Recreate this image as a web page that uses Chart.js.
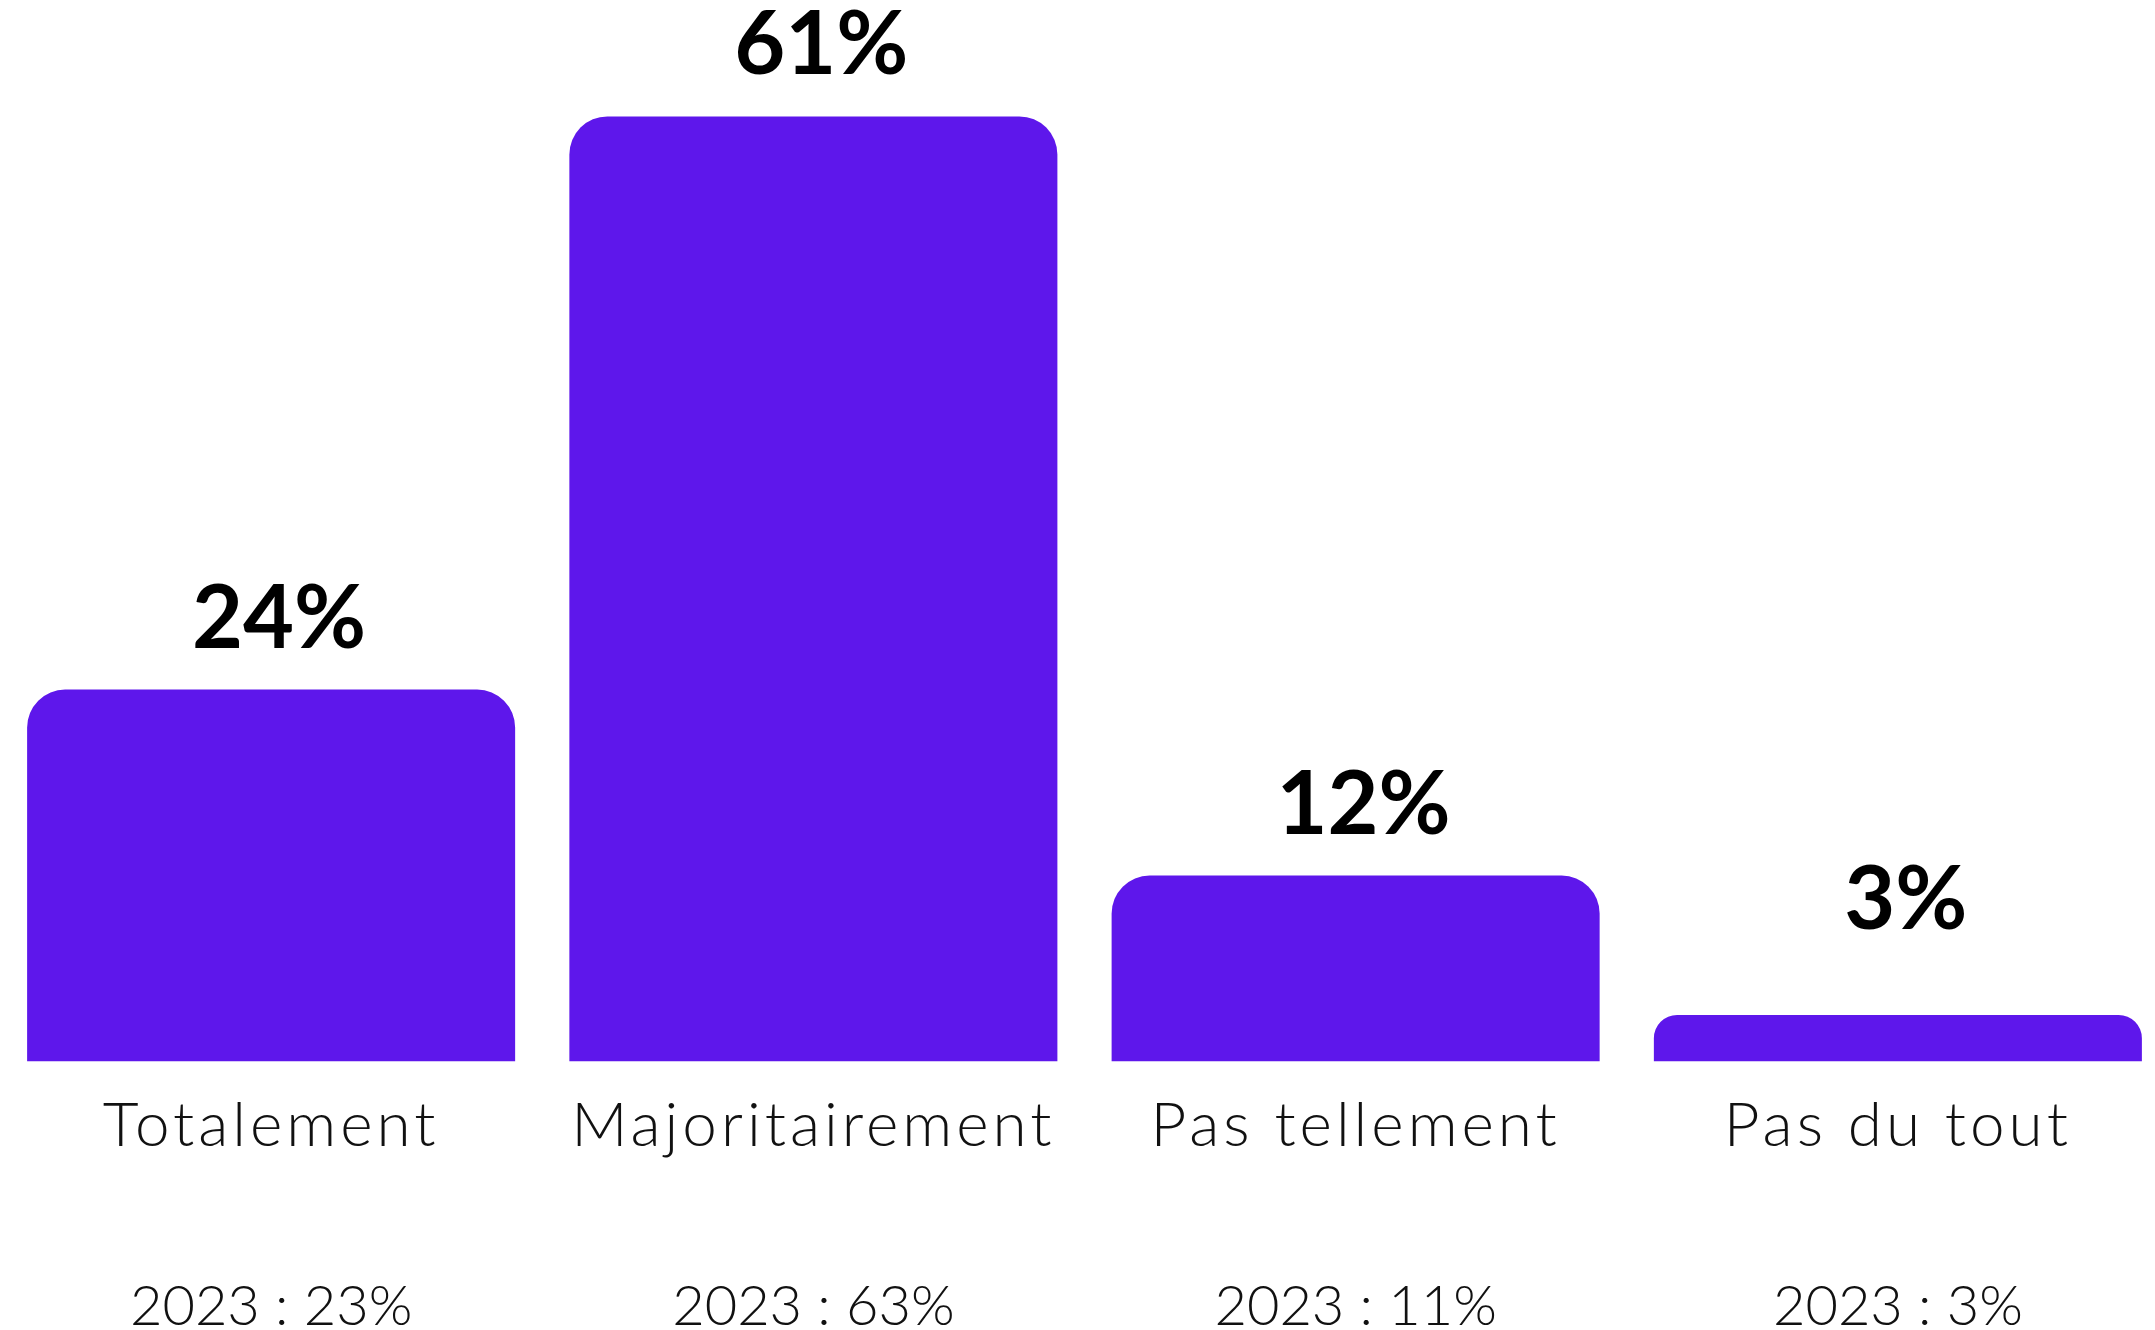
<!DOCTYPE html>
<html lang="fr">
<head>
<meta charset="utf-8">
<title>Répartition des réponses</title>
<script src="https://cdn.jsdelivr.net/npm/chart.js@4.4.1/dist/chart.umd.min.js"></script>
<style>
  html, body { margin: 0; padding: 0; background: #fff; overflow: hidden; }
  #wrap { position: absolute; left: 0; top: 0; width: 2169px; height: 1330px; }
</style>
</head>
<body>
<div id="wrap"><canvas id="chart"></canvas></div>
<script>
// ── Data ───────────────────────────────────────────────────────────────────
const categories  = ['Totalement', 'Majoritairement', 'Pas tellement', 'Pas du tout'];
const values2024  = [24, 61, 12, 3];
const labels2023  = ['2023 : 23%', '2023 : 63%', '2023 : 11%', '2023 : 3%'];

const PURPLE = '#5e17eb';

// category labels are drawn wider (letter spacing) than the 2023 line:
// x labels draw before the datasets, x2 labels (ticks.z: 1) after them
const spacing = {
  id: 'spacing',
  beforeDraw(chart) { chart.ctx.letterSpacing = '4px'; },
  beforeDatasetsDraw(chart) { chart.ctx.letterSpacing = '0px'; },
};

// ── Value labels above the bars ────────────────────────────────────────────
const valueLabels = {
  id: 'valueLabels',
  afterDatasetsDraw(chart) {
    const { ctx } = chart;
    const meta = chart.getDatasetMeta(0);
    ctx.save();
    ctx.font = '700 88px Lato';
    ctx.fillStyle = '#000';
    ctx.textAlign = 'center';
    ctx.textBaseline = 'alphabetic';
    meta.data.forEach((bar, i) => {
      const y = Math.min(bar.y - 42, bar.base - 132);
      ctx.fillText(values2024[i] + '%', bar.x + 8, y);
    });
    ctx.restore();
  },
};

new Chart(document.getElementById('chart'), {
  type: 'bar',
  data: {
    labels: categories,
    datasets: [{
      data: values2024,
      backgroundColor: PURPLE,
      borderRadius: { topLeft: 38, topRight: 38 },
      borderSkipped: 'bottom',
      barPercentage: 0.9,
      categoryPercentage: 1,
    }],
  },
  options: {
    responsive: true, maintainAspectRatio: false, animation: false,
    devicePixelRatio: 1,
    layout: { padding: { top: 8, left: 0, right: 0, bottom: -95 } },
    plugins: { legend: { display: false }, tooltip: { enabled: false } },
    scales: {
      y: { display: false, min: 0, max: 68 },
      x: {
        weight: 0,
        grid: { display: false, drawTicks: false },
        border: { display: false },
        ticks: { color: '#111', padding: 27, font: { family: 'Lato', size: 62, weight: 300 } },
      },
      x2: {
        type: 'category',
        labels: labels2023,
        position: 'bottom',
        offset: true,
        weight: 1,
        grid: { display: false, drawTicks: false },
        border: { display: false },
        ticks: { z: 1, color: '#111', padding: 84, font: { family: 'Lato', size: 56, weight: 300 } },
      },
    },
  },
  plugins: [spacing, valueLabels],
});
</script>
</body>
</html>
